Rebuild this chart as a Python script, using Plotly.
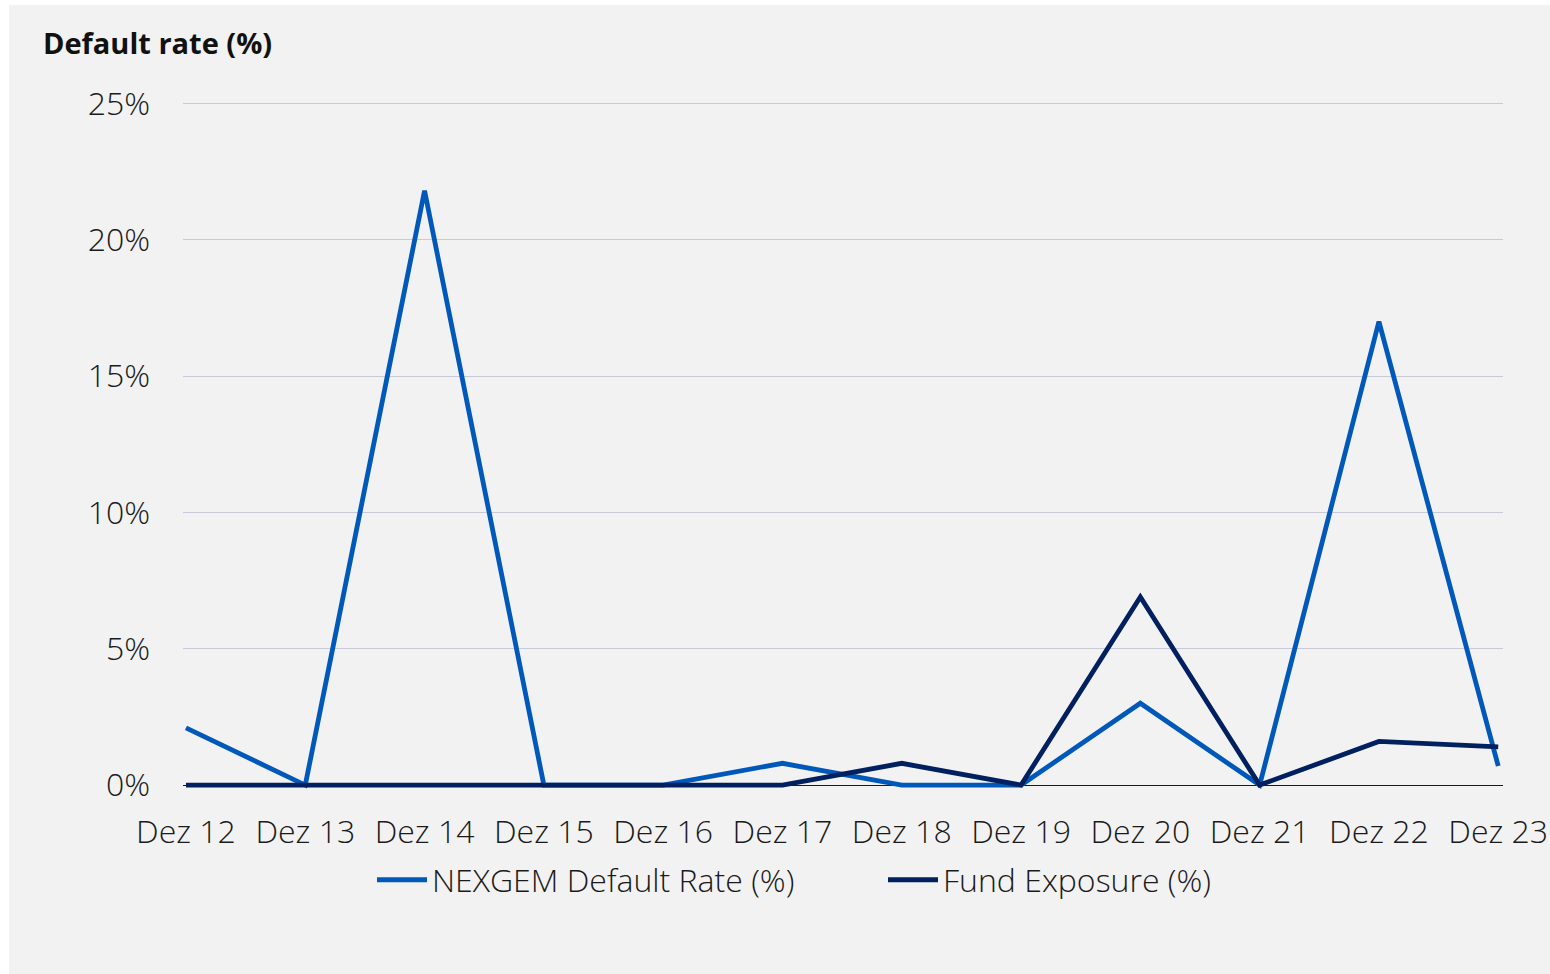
import plotly.graph_objects as go

categories = ["Dez 12", "Dez 13", "Dez 14", "Dez 15", "Dez 16", "Dez 17",
              "Dez 18", "Dez 19", "Dez 20", "Dez 21", "Dez 22", "Dez 23"]
nexgem_default = [2.1, 0.0, 21.8, 0.0, 0.0, 0.8, 0.0, 0.0, 3.0, 0.0, 17.0, 0.7]
fund_exposure = [0.0, 0.0, 0.0, 0.0, 0.0, 0.0, 0.8, 0.0, 6.9, 0.0, 1.6, 1.4]
y_ticks = [0, 5, 10, 15, 20, 25]
y_tick_labels = ["0%", "5%", "10%", "15%", "20%", "25%"]

W, H = 1550, 974
L, R, T, B = 183, 47, 102, 178
pw, ph = W - L - R, H - T - B

def px_x(p):
    return (p - L) / pw

def px_y(p):
    return (H - B - p) / ph

FONT = "Open Sans"
TXT = "#1a1a1a"
FS = 32

fig = go.Figure()
fig.add_trace(go.Scatter(x=list(range(len(categories))), y=nexgem_default, mode="lines",
                         name="NEXGEM Default Rate (%)",
                         line=dict(color="#0059BA", width=4.8)))
fig.add_trace(go.Scatter(x=list(range(len(categories))), y=fund_exposure, mode="lines",
                         name="Fund Exposure (%)",
                         line=dict(color="#00205F", width=4.8)))

fig.add_shape(type="rect", xref="paper", yref="paper",
              x0=px_x(9), x1=px_x(1560), y0=px_y(990), y1=px_y(5),
              fillcolor="#F2F2F2", line=dict(width=0), layer="below")

fig.add_annotation(text="<b>Default rate (%)</b>", xref="paper", yref="paper",
                   x=px_x(41), y=px_y(43), xanchor="left", yanchor="middle",
                   showarrow=False, font=dict(family=FONT, size=29, color="#111111"))

fig.update_layout(
    width=W, height=H,
    margin=dict(l=L, r=R, t=T, b=B, autoexpand=False),
    paper_bgcolor="white",
    plot_bgcolor="rgba(0,0,0,0)",
    font=dict(family=FONT, size=FS, color=TXT, weight=300),
    showlegend=True,
    legend=dict(orientation="h", x=px_x(372), y=px_y(880), xanchor="left", yanchor="middle",
                bgcolor="rgba(0,0,0,0)", font=dict(family=FONT, size=FS, color=TXT, weight=300),
                itemwidth=50, tracegroupgap=0, itemsizing="constant",
                entrywidth=446, entrywidthmode="pixels"),
    xaxis=dict(range=[-0.025, 11.04], tickmode="array", automargin=False,
               tickvals=list(range(len(categories))), ticktext=categories,
               showgrid=False, zeroline=False, showline=False, ticks="",
               ticklabelstandoff=14, tickfont=dict(family=FONT, size=FS, color=TXT, weight=300)),
    yaxis=dict(range=[-0.4, 25.05], tickmode="array", tickvals=y_ticks, ticktext=y_tick_labels,
               automargin=False,
               showgrid=True, gridcolor="#C9CAD8", gridwidth=1,
               zeroline=True, zerolinecolor="#1a1a1a", zerolinewidth=1.2,
               showline=False, ticks="", ticklabelstandoff=32,
               tickfont=dict(family=FONT, size=FS, color=TXT, weight=300)),
)

fig.write_html("out.html")
